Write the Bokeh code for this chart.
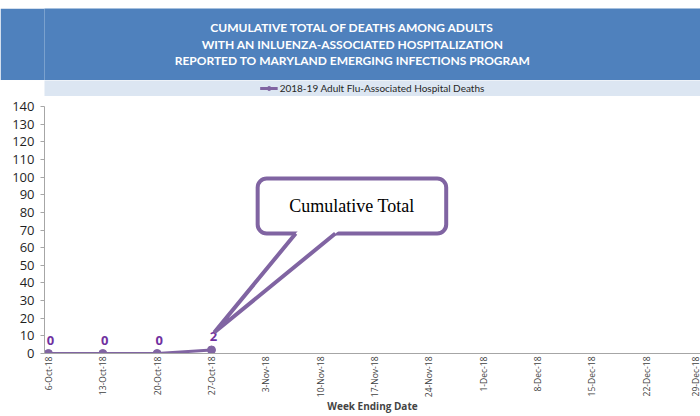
import math
from bokeh.plotting import figure
from bokeh.layouts import column
from bokeh.models import (BoxAnnotation, Label, Legend, LegendItem, FixedTicker,
                          Range1d, ColumnDataSource, Spacer)
from bokeh.embed import file_html
from bokeh.resources import INLINE
from bokeh.core.properties import value

# ---------------- data ----------------
week_labels = ["6-Oct-18", "13-Oct-18", "20-Oct-18", "27-Oct-18", "3-Nov-18",
               "10-Nov-18", "17-Nov-18", "24-Nov-18", "1-Dec-18", "8-Dec-18",
               "15-Dec-18", "22-Dec-18", "29-Dec-18"]
deaths = [0, 0, 0, 2]
y_ticks = [0, 10, 20, 30, 40, 50, 60, 70, 80, 90, 100, 110, 120, 130, 140]
series_name = "2018-19 Adult Flu-Associated Hospital Deaths"
title_lines = ["CUMULATIVE TOTAL OF DEATHS AMONG ADULTS",
               "WITH AN INLUENZA-ASSOCIATED HOSPITALIZATION",
               "REPORTED TO MARYLAND EMERGING INFECTIONS PROGRAM"]
x_title = "Week Ending Date"
callout_text = "Cumulative Total"

# ---------------- styling ----------------
W = 700
PURPLE = "#8064A2"
LABEL_PURPLE = "#7030A0"
BANNER = "#4F81BD"
BAND = "#DCE6F2"
AXIS_GRAY = "#A6A6A6"
LEFT = 44

idx = list(range(len(deaths)))
src = ColumnDataSource(dict(x=idx, y=deaths, lbl=[str(v) for v in deaths]))
x_rng = Range1d(-0.073, 12.0)


def bare(height, **kw):
    f = figure(width=W, height=height, output_backend="svg",
               toolbar_location=None, x_axis_type=None, y_axis_type=None,
               **kw)
    f.grid.visible = False
    f.outline_line_color = None
    f.border_fill_color = "white"
    return f


# ---- banner ----
banner = bare(72, x_range=Range1d(0, 1), y_range=Range1d(0, 1),
              min_border_top=0, min_border_left=LEFT, min_border_right=0,
              min_border_bottom=0)
banner.border_fill_color = BANNER
banner.background_fill_color = BANNER
title_y = [0.736, 0.5, 0.278]
banner.text(x=[0.4695] * len(title_lines), y=title_y, text=title_lines,
            text_font=value("Lato"), text_font_style="bold",
            text_font_size="12px", text_color="white",
            text_align="center", text_baseline="middle")

# ---- legend band ----
band = bare(16, x_range=x_rng, y_range=Range1d(500, 501),
            min_border_top=0, min_border_left=LEFT, min_border_right=0,
            min_border_bottom=0)
band.background_fill_color = BAND
lg_line = band.line("x", "y", source=src, line_width=3, line_color=PURPLE)
lg_dot = band.scatter("x", "y", source=src, size=6, fill_color=PURPLE,
                      line_color=PURPLE)
legend = Legend(items=[LegendItem(label=series_name,
                                  renderers=[lg_line, lg_dot])],
                orientation="horizontal", location="center",
                background_fill_alpha=0, border_line_alpha=0,
                label_text_font="Lato", label_text_font_size="10px",
                label_text_color="#262626", label_height=12,
                glyph_width=18, glyph_height=10, label_standoff=2,
                margin=0, padding=1, spacing=0)
band.add_layout(legend, "center")

# ---- main chart ----
p = figure(width=W, height=320, output_backend="svg", toolbar_location=None,
           x_range=x_rng, y_range=Range1d(0, 140),
           min_border_left=LEFT, min_border_right=0, min_border_top=10,
           min_border_bottom=63)
p.outline_line_color = None
p.grid.visible = False
p.background_fill_color = "white"
p.border_fill_color = "white"

p.yaxis.ticker = FixedTicker(ticks=y_ticks)
p.yaxis.axis_line_color = AXIS_GRAY
p.yaxis.major_tick_line_color = AXIS_GRAY
p.yaxis.major_tick_out = 4
p.yaxis.major_tick_in = 0
p.yaxis.minor_tick_out = 0
p.yaxis.minor_tick_in = 0
p.yaxis.major_label_standoff = 6
p.yaxis.major_label_text_font = "Open Sans"
p.yaxis.major_label_text_font_size = "13px"
p.yaxis.major_label_text_color = "#1F1F1F"

p.xaxis.ticker = FixedTicker(ticks=list(range(len(week_labels))))
p.xaxis.major_label_overrides = {i: s for i, s in enumerate(week_labels)}
p.xaxis.major_label_orientation = math.pi / 2
p.xaxis.axis_line_color = AXIS_GRAY
p.xaxis.major_tick_out = 0
p.xaxis.major_tick_in = 0
p.xaxis.minor_tick_out = 0
p.xaxis.minor_tick_in = 0
p.xaxis.major_label_standoff = 3
p.xaxis.major_label_text_font = "Open Sans"
p.xaxis.major_label_text_font_size = "8.5px"
p.xaxis.major_label_text_color = "#404040"
p.xaxis.axis_label = x_title
p.xaxis.axis_label_text_font = "Open Sans"
p.xaxis.axis_label_text_font_style = "bold"
p.xaxis.axis_label_text_font_size = "10px"
p.xaxis.axis_label_standoff = -1

line_r = p.line("x", "y", source=src, line_width=3, line_color=PURPLE)
dot_r = p.scatter("x", "y", source=src, size=8, fill_color=PURPLE,
                  line_color=PURPLE)
p.text("x", "y", text="lbl", source=src, text_font=value("Open Sans"),
       text_font_style="bold", text_font_size="13px", text_color=LABEL_PURPLE,
       text_align="center", text_baseline="bottom", x_offset=2, y_offset=-9)

# ---- callout annotation ----
box_l, box_r, box_b, box_t = 3.85, 7.32, 68.0, 99.2
tip_x, tip_y = 3.05, 11.9
base_lx, base_rx = 4.55, 5.28
callout = BoxAnnotation(left=box_l, right=box_r, bottom=box_b, top=box_t,
                        fill_color="white", fill_alpha=1.0,
                        line_color=PURPLE, line_alpha=1.0, line_width=4,
                        border_radius=9)
p.add_layout(callout)
ext = 2.2
slope_l = (base_lx - tip_x) / (box_b - tip_y)
slope_r = (base_rx - tip_x) / (box_b - tip_y)
p.patch([tip_x, base_lx + slope_l * ext, base_rx + slope_r * ext],
        [tip_y, box_b + ext, box_b + ext],
        fill_color="white", line_color=None, level="overlay")
p.line([base_lx, tip_x, base_rx], [box_b, tip_y, box_b], line_color=PURPLE,
       line_width=4, line_join="miter", level="overlay")
p.add_layout(Label(x=(box_l + box_r) / 2, y=(box_b + box_t) / 2,
                   text=callout_text, text_align="center",
                   text_baseline="middle", text_font="Liberation Serif",
                   text_font_size="18px", text_color="black",
                   level="overlay"))

layout = column(Spacer(width=W, height=8), banner, band, p, spacing=0)
open("out.html", "w").write(file_html(layout, INLINE))
